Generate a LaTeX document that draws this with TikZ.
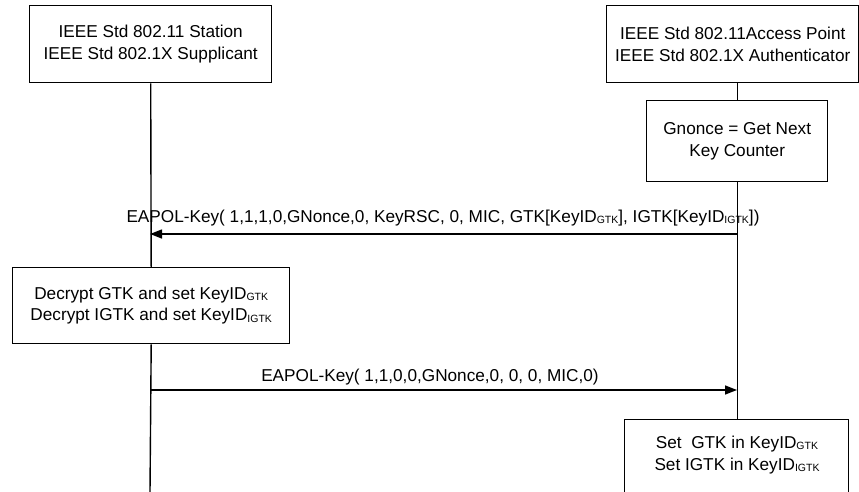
\documentclass[tikz,border=0pt]{standalone}
\usepackage{fontspec}
\setmainfont{Liberation Sans}
\usetikzlibrary{arrows.meta}
\newcommand{\ksub}[1]{\raisebox{-1.2pt}{\fontsize{10.5}{10}\selectfont #1}}
\tikzset{
  x=1pt, y=-1pt,
  txt/.style={font=\fontsize{17.2}{21.5}\selectfont, align=center, inner sep=0pt},
  boxnode/.style={txt, draw, line width=1.4pt, anchor=north west},
  life/.style={line width=1.4pt},
  msg/.style={line width=1.4pt, -{Triangle[length=12pt,width=9pt]}},
}
\begin{document}
\begin{tikzpicture}
\clip (0,0) rectangle (859,492);
\fill[white] (0,0) rectangle (859,492);
% boxes
\node[boxnode, minimum width=242pt, minimum height=77pt] (sta) at (29,5)
  {IEEE Std 802.11 Station\\IEEE Std 802.1X Supplicant};
\node[boxnode, minimum width=252pt, minimum height=77pt] (ap) at (606,5)
  {IEEE Std 802.11Access Point\\IEEE Std 802.1X Authenticator};
\node[boxnode, minimum width=181pt, minimum height=81pt] (gn) at (646,100)
  {Gnonce = Get Next\\Key Counter};
\node[boxnode, minimum width=277pt, minimum height=76pt] (dec) at (12,267)
  {Decrypt GTK and set KeyID\ksub{GTK}\\Decrypt IGTK and set KeyID\ksub{IGTK}};
\node[boxnode, minimum width=224pt, minimum height=110pt] (set) at (624,419) {};
\node[txt] (settxt) at (737,455) {Set\ \ GTK in KeyID\ksub{GTK}\\Set IGTK in KeyID\ksub{IGTK}};
% lifeline coordinates
\coordinate (lbot) at (150,492);
\coordinate (m1r) at (737,234);
\coordinate (m1l) at (150,234);
\coordinate (m2l) at (150,390);
\coordinate (m2r) at (737,390);
% lifelines
\draw[life] (sta.south) -- (dec.north);
\draw[life] (dec.south) -- (lbot);
\draw[life] (ap.south -| gn.south) -- (gn.north);
\draw[life] (gn.south) -- (set.north -| gn.south);
% messages
\draw[msg] (m1r) -- (m1l);
\node[txt, anchor=base] (l1) at (443,222)
  {EAPOL-Key( 1,1,1,0,GNonce,0, KeyRSC, 0, MIC, GTK[KeyID\ksub{GTK}], IGTK[KeyID\ksub{IGTK}])};
\draw[msg] (m2l) -- (m2r);
\node[txt, anchor=base] (l2) at (430,381)
  {EAPOL-Key( 1,1,0,0,GNonce,0, 0, 0, MIC,0)};
\end{tikzpicture}
\end{document}
